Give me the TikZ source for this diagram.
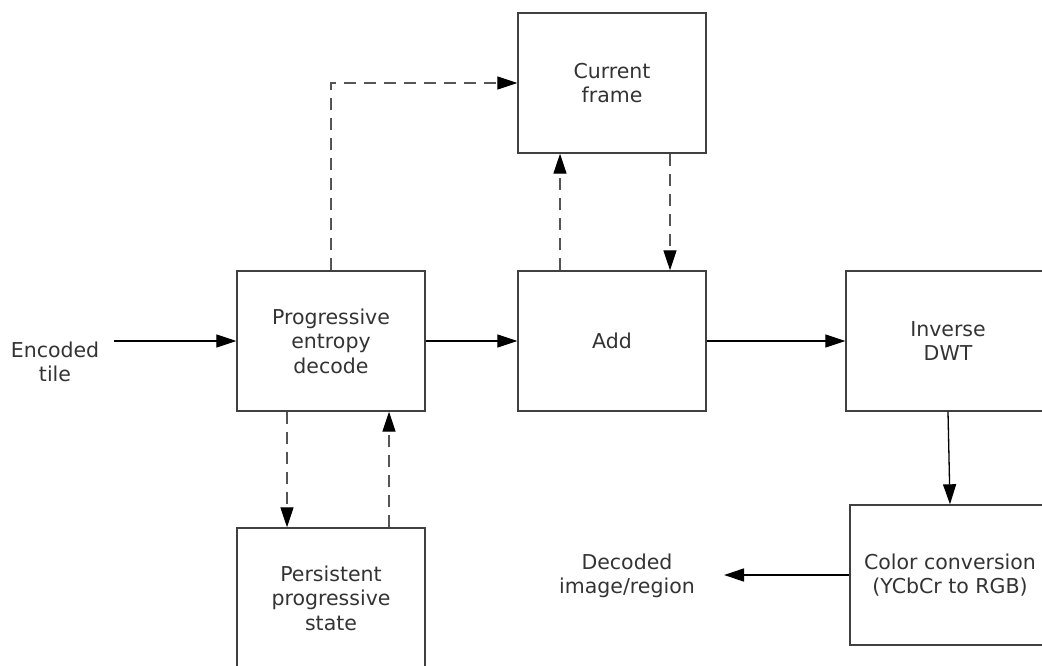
\documentclass[tikz,border=0pt]{standalone}
\usepackage{fontspec}
\setmainfont{DejaVu Sans}
\usepackage{tikz}
\usetikzlibrary{arrows.meta, positioning}
\usepackage{xcolor}
\definecolor{boxline}{HTML}{404040}
\definecolor{txtgray}{HTML}{333333}
\definecolor{dashgray}{HTML}{555555}

\begin{document}
\begin{tikzpicture}[x=1pt, y=-1pt,
    block/.style={draw=boxline, line width=1.4pt, minimum width=188pt, minimum height=140pt, font=\fontsize{20.5}{24.5}\selectfont, text=txtgray, align=center, inner sep=0pt},
    iolabel/.style={font=\fontsize{20.5}{24.5}\selectfont, text=txtgray, align=center, inner xsep=15pt, inner ysep=0pt},
    arrow/.style={-{Triangle[length=20pt, width=13pt, color=black]}, line width=1.3pt},
    dasharrow/.style={arrow, draw=dashgray, dash pattern=on 12pt off 8pt},
]
\useasboundingbox (0,0) rectangle (1042,666);
\clip (0,0) rectangle (1042,666);

% Blocks
\node[block] (cur) at (612, 83) {Current\\frame};
\node[block] (prog) at (331, 341) {Progressive\\entropy\\decode};
\node[block] (add) at (612, 341) {Add};
\node[block, minimum width=204pt] (dwt) at (948, 341) {Inverse\\DWT};
\node[block, minimum width=200pt] (col) at (950, 575) {Color conversion\\(YCbCr to RGB)};
\node[block] (pers) at (331, 598) {Persistent\\progressive\\state};

% Input and output
\node[iolabel] (in) at (55, 362) {Encoded\\tile};
\node[iolabel, inner xsep=29pt] (out) at (627, 576) {Decoded\\image/region};

% Arrows
\draw[arrow] (in.east |- prog.west) -- (prog.west);
\draw[arrow] (prog) -- (add);
\draw[arrow] (add) -- (dwt);
\draw[arrow] (dwt.south) -- (col.north);
\draw[arrow] (col.west) -- (col.west -| out.east);

% Dashed arrows
\draw[dasharrow] (prog.north) |- (cur.west);
\draw[dasharrow] ([xshift=-52pt]add.north) -- ([xshift=-52pt]cur.south);
\draw[dasharrow] ([xshift=58pt]cur.south) -- ([xshift=58pt]add.north);
\draw[dasharrow] ([xshift=-44pt]prog.south) -- ([xshift=-44pt]pers.north);
\draw[dasharrow] ([xshift=58pt]pers.north) -- ([xshift=58pt]prog.south);

\end{tikzpicture}
\end{document}
